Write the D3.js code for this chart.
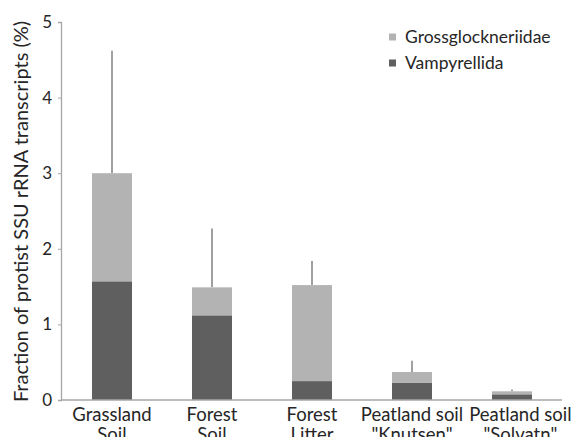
<!DOCTYPE html>
<html>
<head>
<meta charset="utf-8">
<script src="https://cdn.jsdelivr.net/npm/d3@7"></script>
<style>
  body { margin: 0; background: #fff; }
  svg { display: block; font-family: Lato, "Open Sans", sans-serif; }
</style>
</head>
<body>
<svg id="chart" width="573" height="437"></svg>
<script>
// Sites (two-line labels) and stacked fractions (% of protist SSU rRNA transcripts)
const categories = [
  ["Grassland", "Soil"],
  ["Forest", "Soil"],
  ["Forest", "Litter"],
  ["Peatland soil", "\"Knutsen\""],
  ["Peatland soil", "\"Solvatn\""]
];
const vampyrellida = [1.57, 1.12, 0.25, 0.23, 0.075];
const grossglockneriidae = [1.43, 0.37, 1.27, 0.14, 0.04];
const errorTop = [4.62, 2.27, 1.84, 0.52, 0.14];
const yTicks = [0, 1, 2, 3, 4, 5];
const seriesNames = ["Grossglockneriidae", "Vampyrellida"];
const colors = { Grossglockneriidae: "#b3b3b3", Vampyrellida: "#5f5f5f" };

const svg = d3.select("#chart");
const margin = { left: 61, right: 11, top: 22, bottom: 37 };
const W = 573, H = 437;
const textColor = "#262626";

const x = d3.scaleBand()
  .domain(d3.range(categories.length))
  .range([margin.left + 1, W - margin.right])
  .paddingInner(0.6).paddingOuter(0.3);

const y = d3.scaleLinear().domain([0, 5]).range([H - margin.bottom, margin.top]);

// stacked bars
const rows = categories.map((c, i) => ({
  i, Vampyrellida: vampyrellida[i], Grossglockneriidae: grossglockneriidae[i]
}));
const stack = d3.stack().keys(["Vampyrellida", "Grossglockneriidae"])(rows);

// error bars (drawn behind the bars, upward from the stack top)
svg.append("g").selectAll("line").data(rows).join("line")
  .attr("x1", d => x(d.i) + x.bandwidth() / 2)
  .attr("x2", d => x(d.i) + x.bandwidth() / 2)
  .attr("y1", d => y(d.Vampyrellida + d.Grossglockneriidae))
  .attr("y2", d => y(errorTop[d.i]))
  .attr("stroke", "#808080").attr("stroke-width", 1.5);

svg.append("g").selectAll("g").data(stack).join("g")
  .attr("fill", d => colors[d.key])
  .selectAll("rect").data(d => d).join("rect")
  .attr("x", d => x(d.data.i))
  .attr("width", x.bandwidth())
  .attr("y", d => y(d[1]))
  .attr("height", d => y(d[0]) - y(d[1]));

// y axis
const yAxis = svg.append("g")
  .attr("transform", `translate(${margin.left},0)`)
  .call(d3.axisLeft(y).tickValues(yTicks).tickSize(3).tickPadding(6).tickFormat(d3.format("d")));
yAxis.select(".domain").attr("stroke", "#a6a6a6").attr("stroke-width", 1.3);
yAxis.selectAll(".tick line").attr("stroke", "#a6a6a6");
yAxis.selectAll(".tick text").attr("font-size", 17).attr("fill", textColor)
  .attr("font-family", "Lato, 'Open Sans', sans-serif");

// x axis baseline
svg.append("line")
  .attr("x1", margin.left).attr("x2", W - margin.right)
  .attr("y1", y(0)).attr("y2", y(0))
  .attr("stroke", "#a6a6a6").attr("stroke-width", 1.3);

// category labels, centred under each bar
const lbl = svg.append("g").selectAll("text").data(categories).join("text")
  .attr("text-anchor", "middle")
  .attr("font-size", 18.5).attr("fill", textColor)
  .attr("transform", "translate(0,0)")
  .attr("y", 421);
lbl.append("tspan").attr("x", (d, i) => x(i) + x.bandwidth() / 2).text(d => d[0]);
lbl.append("tspan").attr("x", (d, i) => x(i) + x.bandwidth() / 2).attr("dy", 20).text(d => d[1]);

// push a label right when it would collide with its left neighbour
const minGap = 6;
let prevRight = -Infinity;
lbl.each(function () {
  const b = this.getBBox();
  const shift = Math.max(0, prevRight + minGap - b.x);
  d3.select(this).attr("transform", `translate(${shift},0)`);
  prevRight = b.x + b.width + shift;
});

// y title
svg.append("text")
  .attr("transform", `translate(28,${(13 + 410) / 2}) rotate(-90)`)
  .attr("text-anchor", "middle")
  .attr("font-size", 20).attr("fill", textColor)
  .text("Fraction of protist SSU rRNA transcripts (%)");

// legend
const leg = svg.append("g").selectAll("g").data(seriesNames).join("g")
  .attr("transform", (d, i) => `translate(389,${37 + i * 26})`);
leg.append("rect").attr("x", 0).attr("y", -3.5).attr("width", 7).attr("height", 7)
  .attr("fill", d => colors[d]);
leg.append("text").attr("x", 16).attr("y", 0).attr("dy", "0.35em")
  .attr("font-size", 17.5).attr("fill", textColor).text(d => d);
</script>
</body>
</html>
